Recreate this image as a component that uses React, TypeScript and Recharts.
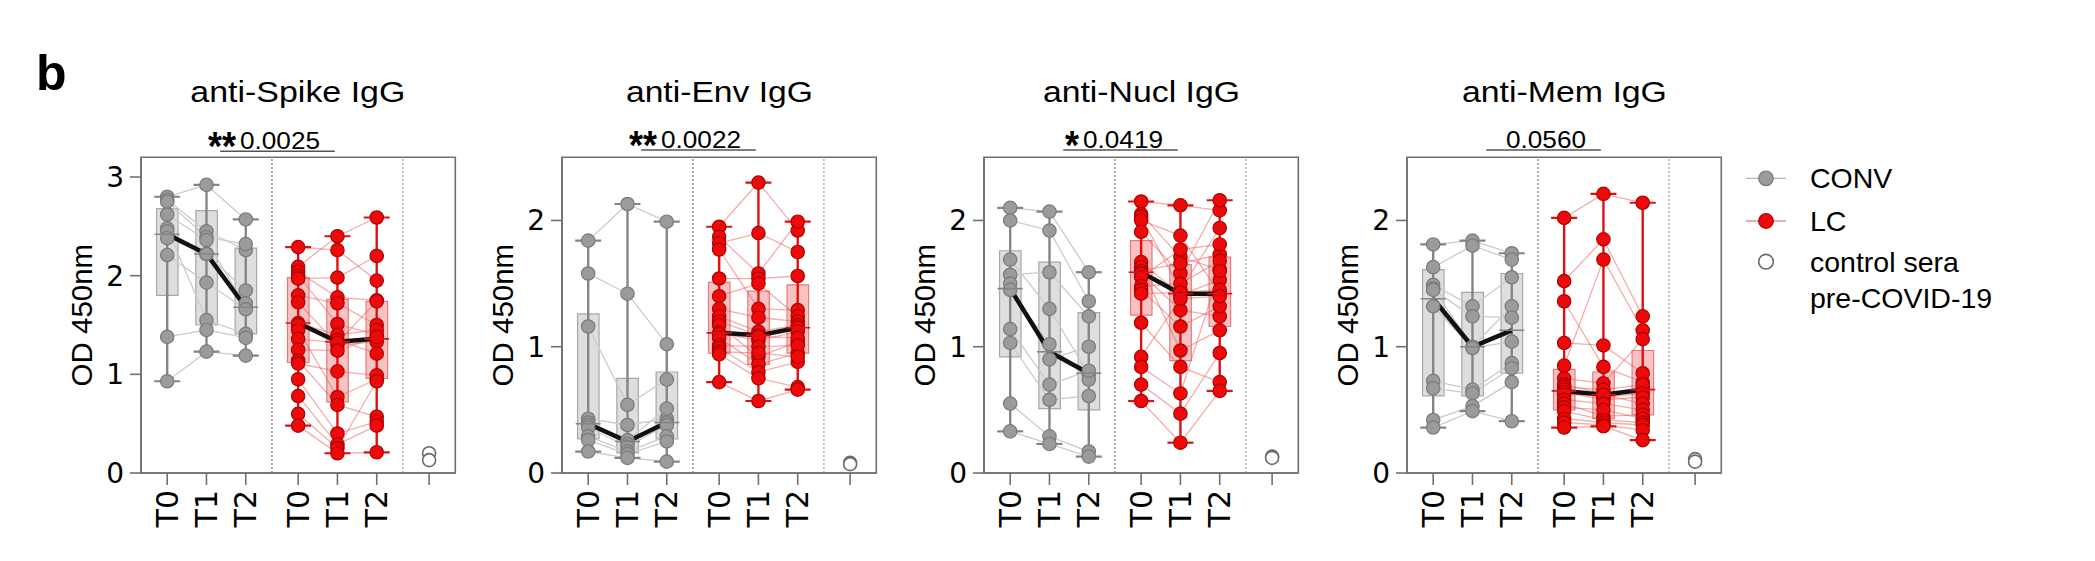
import React from 'react';
import {
  ComposedChart,
  XAxis,
  YAxis,
  Bar,
  Cell,
  Line,
  Scatter,
  ReferenceLine,
  ReferenceArea,
} from 'recharts';

// ---------- categories / labels ----------
const TITLES = ['anti-Spike IgG', 'anti-Env IgG', 'anti-Nucl IgG', 'anti-Mem IgG'];
const P_VALUES = ['0.0025', '0.0022', '0.0419', '0.0560'];
const STARS = ['**', '**', '*', ''];
const Y_MAX = [3.2, 2.5, 2.5, 2.5];
const Y_TICKS = [[0, 1, 2, 3], [0, 1, 2], [0, 1, 2], [0, 1, 2]];
const CONV_X = [2, 5, 8];
const LC_X = [12, 15, 18];
const CTRL_X = 22;
const X_TICKS = [2, 5, 8, 12, 15, 18, 22];
const X_TICK_LABELS = ['T0', 'T1', 'T2', 'T0', 'T1', 'T2', ''];
const LEGEND_LABELS = ['CONV', 'LC', 'control sera', 'pre-COVID-19'];

// ---------- anti-Spike ----------
const SPIKE_CONV_T0 = [2.8, 2.77, 2.75, 2.62, 2.48, 2.45, 2.38, 2.21, 1.38, 0.93];
const SPIKE_CONV_T1 = [2.92, 2.45, 2.39, 2.36, 1.55, 2.22, 2.22, 1.93, 1.45, 1.23];
const SPIKE_CONV_T2 = [2.57, 2.26, 2.32, 1.68, 1.41, 1.85, 1.72, 1.66, 1.37, 1.19];
const SPIKE_LC_T0 = [2.29, 2.09, 2.04, 2.0, 1.97, 1.8, 1.73, 1.52, 1.5, 1.45, 1.36, 1.25, 1.14, 1.11, 0.95, 0.78, 0.6, 0.48];
const SPIKE_LC_T1 = [2.26, 2.4, 1.78, 1.51, 1.98, 1.72, 1.3, 1.4, 1.35, 0.77, 1.32, 1.24, 0.69, 1.03, 0.4, 0.29, 0.25, 0.2];
const SPIKE_LC_T2 = [1.95, 2.59, 1.75, 1.4, 2.2, 1.5, 1.33, 1.45, 1.21, 0.95, 1.74, 1.38, 0.57, 0.99, 0.52, 0.48, 0.93, 0.21];
// [q1, median, q3, min, max] for CONV T0,T1,T2, LC T0,T1,T2
const SPIKE_BOXES = [
  [1.8, 2.42, 2.68, 0.93, 2.8],
  [1.5, 2.22, 2.66, 1.23, 2.92],
  [1.41, 1.68, 2.28, 1.19, 2.57],
  [1.12, 1.52, 1.98, 0.48, 2.29],
  [0.72, 1.33, 1.76, 0.2, 2.4],
  [0.96, 1.36, 1.74, 0.21, 2.59],
];
const SPIKE_CTRL = [0.2, 0.13];

// ---------- anti-Env ----------
const ENV_CONV_T0 = [1.84, 1.58, 1.16, 0.43, 0.4, 0.38, 0.36, 0.29, 0.26, 0.17];
const ENV_CONV_T1 = [2.13, 1.42, 0.54, 0.38, 0.26, 0.23, 0.21, 0.17, 0.15, 0.12];
const ENV_CONV_T2 = [1.99, 1.02, 0.74, 0.43, 0.51, 0.4, 0.38, 0.29, 0.25, 0.09];
const ENV_LC_T0 = [1.95, 1.87, 1.82, 1.77, 1.54, 1.4, 1.3, 1.24, 1.2, 1.17, 1.11, 1.1, 1.07, 1.01, 0.99, 0.96, 0.94, 0.72];
const ENV_LC_T1 = [2.3, 1.58, 1.9, 1.3, 1.54, 1.5, 1.23, 1.12, 1.09, 0.92, 1.05, 1.08, 0.86, 1.0, 0.8, 0.95, 0.75, 0.57];
const ENV_LC_T2 = [1.92, 1.99, 1.75, 1.29, 1.56, 1.24, 1.2, 1.17, 1.15, 1.04, 1.12, 1.07, 0.95, 1.01, 0.88, 0.92, 0.68, 0.66];
const ENV_BOXES = [
  [0.27, 0.39, 1.26, 0.17, 1.84],
  [0.16, 0.25, 0.75, 0.12, 2.13],
  [0.27, 0.4, 0.8, 0.09, 1.99],
  [0.95, 1.11, 1.51, 0.72, 1.95],
  [0.86, 1.09, 1.44, 0.57, 2.3],
  [0.95, 1.15, 1.49, 0.66, 1.99],
];
const ENV_CTRL = [0.08, 0.07];

// ---------- anti-Nucl ----------
const NUCL_CONV_T0 = [2.1, 2.0, 1.69, 1.57, 1.5, 1.45, 1.14, 1.03, 0.55, 0.33];
const NUCL_CONV_T1 = [2.07, 1.92, 1.3, 1.59, 0.9, 1.02, 0.7, 0.58, 0.29, 0.23];
const NUCL_CONV_T2 = [1.59, 1.36, 0.78, 1.24, 1.0, 0.74, 0.81, 0.61, 0.17, 0.13];
const NUCL_LC_T0 = [2.15, 2.05, 2.03, 2.0, 1.91, 1.67, 1.63, 1.6, 1.58, 1.55, 1.48, 1.45, 1.42, 1.19, 0.92, 0.84, 0.7, 0.57];
const NUCL_LC_T1 = [2.12, 1.71, 1.45, 1.88, 1.58, 1.41, 0.97, 1.66, 1.29, 1.77, 1.5, 1.16, 1.43, 0.84, 1.38, 0.63, 0.47, 0.24];
const NUCL_LC_T2 = [2.08, 1.61, 1.94, 1.42, 2.16, 1.53, 1.13, 1.73, 1.24, 1.81, 1.68, 1.32, 1.45, 0.72, 1.4, 1.6, 0.95, 0.65];
const NUCL_BOXES = [
  [0.92, 1.46, 1.76, 0.33, 2.1],
  [0.51, 0.96, 1.67, 0.23, 2.07],
  [0.5, 0.79, 1.27, 0.13, 1.59],
  [1.25, 1.59, 1.84, 0.57, 2.15],
  [0.89, 1.42, 1.65, 0.24, 2.12],
  [1.16, 1.42, 1.71, 0.65, 2.16],
];
const NUCL_CTRL = [0.13, 0.12];

// ---------- anti-Mem ----------
const MEM_CONV_T0 = [1.81, 1.63, 1.49, 1.46, 1.45, 1.32, 0.73, 0.67, 0.42, 0.36];
const MEM_CONV_T1 = [1.84, 1.8, 1.32, 1.0, 1.24, 0.99, 0.66, 0.63, 0.53, 0.49];
const MEM_CONV_T2 = [1.74, 1.69, 1.55, 1.32, 1.23, 1.04, 0.87, 0.83, 0.72, 0.41];
const MEM_LC_T0 = [2.02, 1.52, 1.36, 1.03, 0.85, 0.75, 0.7, 0.68, 0.66, 0.64, 0.62, 0.58, 0.55, 0.52, 0.49, 0.43, 0.4, 0.36];
const MEM_LC_T1 = [2.21, 1.85, 0.84, 1.01, 1.69, 0.71, 0.63, 0.66, 0.6, 0.58, 0.62, 0.55, 0.45, 0.5, 0.42, 0.4, 0.38, 0.37];
const MEM_LC_T2 = [2.14, 1.24, 0.72, 0.79, 1.13, 1.06, 0.67, 0.7, 0.63, 0.6, 0.55, 0.5, 0.46, 0.43, 0.4, 0.38, 0.34, 0.26];
const MEM_BOXES = [
  [0.61, 1.38, 1.61, 0.36, 1.81],
  [0.61, 1.0, 1.43, 0.49, 1.84],
  [0.79, 1.13, 1.58, 0.41, 1.74],
  [0.5, 0.65, 0.82, 0.36, 2.02],
  [0.43, 0.62, 0.8, 0.37, 2.21],
  [0.46, 0.66, 0.97, 0.26, 2.14],
];
const MEM_CTRL = [0.11, 0.09];

const PANELS = [
  { conv: [SPIKE_CONV_T0, SPIKE_CONV_T1, SPIKE_CONV_T2], lc: [SPIKE_LC_T0, SPIKE_LC_T1, SPIKE_LC_T2], boxes: SPIKE_BOXES, ctrl: SPIKE_CTRL },
  { conv: [ENV_CONV_T0, ENV_CONV_T1, ENV_CONV_T2], lc: [ENV_LC_T0, ENV_LC_T1, ENV_LC_T2], boxes: ENV_BOXES, ctrl: ENV_CTRL },
  { conv: [NUCL_CONV_T0, NUCL_CONV_T1, NUCL_CONV_T2], lc: [NUCL_LC_T0, NUCL_LC_T1, NUCL_LC_T2], boxes: NUCL_BOXES, ctrl: NUCL_CTRL },
  { conv: [MEM_CONV_T0, MEM_CONV_T1, MEM_CONV_T2], lc: [MEM_LC_T0, MEM_LC_T1, MEM_LC_T2], boxes: MEM_BOXES, ctrl: MEM_CTRL },
];

// ---------- layout / style ----------
const PLOT_LEFTS = [140.7, 562.3, 984.3, 1407.3];
const PLOT_W = 314.3;
const Y_AXIS_W = 100;
const CHART_H = 561;
const MARGIN = { top: 157.3, right: 5, bottom: 8, left: 0 };
const SIG_Y = [3.262, 2.557, 2.557, 2.557];
const TITLE_W = [215, 187, 197, 205];
const AXIS_COLOR = '#707070';
const SANS = '"Liberation Sans", Arial, Helvetica, sans-serif';
const WIDE = '"DejaVu Sans", "Liberation Sans", sans-serif';
const PT_R = 6.7;

const CONV_STYLE = { fill: '#9b9b9b', stroke: '#7a7a7a', whisker: '#858585', boxFill: 'rgba(200,200,200,0.6)', boxStroke: '#a8a8a8', pair: '#cbcbcb' };
const LC_STYLE = { fill: '#ec0a0a', stroke: '#b00000', whisker: '#e01010', boxFill: 'rgba(238,110,110,0.42)', boxStroke: '#e67a7a', pair: 'rgba(235,90,90,0.5)' };

const renderXTick = (props: any) => {
  const { x, y, payload } = props;
  const i = X_TICKS.indexOf(payload.value);
  const label = i >= 0 ? X_TICK_LABELS[i] : '';
  const yy = y + 3;
  return (
    <text
      x={x}
      y={yy}
      transform={`rotate(-90 ${x} ${yy})`}
      textAnchor="end"
      dominantBaseline="central"
      fontSize={30}
      fontFamily={WIDE}
      fill="#000"
    >
      {label}
    </text>
  );
};

const renderYLabel = (props: any) => {
  const vb = props.viewBox || {};
  const x = (vb.x ?? 0) + (vb.width ?? Y_AXIS_W) - 59;
  const y = (vb.y ?? MARGIN.top) + (vb.height ?? 315) / 2;
  return (
    <text
      x={x}
      y={y}
      transform={`rotate(-90 ${x} ${y})`}
      textAnchor="middle"
      dominantBaseline="central"
      fontSize={29.5}
      fontFamily={SANS}
      fill="#000"
    >
      OD 450nm
    </text>
  );
};

const makeSigLabel = (p: string, stars: string) => (props: any) => {
  const vb = props.viewBox || {};
  const cx = (vb.x ?? 0) + (vb.width ?? 0) / 2 + 2.5;
  const ly = vb.y ?? 0;
  const numW = 80;
  const left = cx - numW / 2;
  return (
    <g>
      <text x={cx} y={ly - 2} textAnchor="middle" fontSize={24.5} fontFamily={SANS} fill="#000" textLength={numW} lengthAdjust="spacingAndGlyphs">
        {p}
      </text>
      {stars ? (
        <text
          x={left - 4}
          y={ly + 9}
          textAnchor="end"
          fontSize={40}
          fontWeight="bold"
          fontFamily={SANS}
          fill="#000"
          textLength={stars.length * 14}
          lengthAdjust="spacingAndGlyphs"
        >
          {stars}
        </text>
      ) : null}
    </g>
  );
};

const circleShape = (fill: string, stroke: string, r: number, sw: number) => (p: any) => (
  <circle cx={p.cx} cy={p.cy} r={r} fill={fill} stroke={stroke} strokeWidth={sw} />
);

const medianTick = (color: string) => (p: any) => (
  <line x1={p.cx - 12.5} x2={p.cx + 12.5} y1={p.cy} y2={p.cy} stroke={color} strokeWidth={1.6} />
);

const capDot = (color: string) => (p: any) => (
  <line key={`cap-${p.index}`} x1={p.cx - 13} x2={p.cx + 13} y1={p.cy} y2={p.cy} stroke={color} strokeWidth={2.2} />
);

function Panel({ idx }: { idx: number }) {
  const cfg = PANELS[idx];
  const yMax = Y_MAX[idx];
  const boxX = [...CONV_X, ...LC_X];
  const boxData = cfg.boxes.map((b, i) => ({
    x: boxX[i],
    q1: b[0],
    med: b[1],
    q3: b[2],
    min: b[3],
    max: b[4],
    y: b[1],
  }));
  const convBoxes = boxData.slice(0, 3);
  const lcBoxes = boxData.slice(3);

  const subjectLines = (series: number[][], xs: number[]) =>
    series[0].map((_, j) => series.map((arr, t) => ({ x: xs[t], y: arr[j] })));
  const convLines = subjectLines(cfg.conv, CONV_X);
  const lcLines = subjectLines(cfg.lc, LC_X);
  const convPoints = cfg.conv.flatMap((arr, t) => arr.map((v) => ({ x: CONV_X[t], y: v })));
  const lcPoints = cfg.lc.flatMap((arr, t) => arr.map((v) => ({ x: LC_X[t], y: v })));
  const ctrlPoints = cfg.ctrl.map((v) => ({ x: CTRL_X, y: v }));
  const chartW = Y_AXIS_W + PLOT_W + MARGIN.right;

  return (
    <div style={{ position: 'absolute', left: PLOT_LEFTS[idx] - Y_AXIS_W, top: 0 }}>
      <ComposedChart width={chartW} height={CHART_H} data={boxData} margin={MARGIN}>
        <XAxis
          type="number"
          dataKey="x"
          domain={[0, 24]}
          ticks={X_TICKS}
          interval={0}
          allowDataOverflow
          height={80}
          tickSize={12}
          tick={renderXTick}
          axisLine={{ stroke: AXIS_COLOR, strokeWidth: 1.6 }}
          tickLine={{ stroke: AXIS_COLOR, strokeWidth: 1.6 }}
        />
        <YAxis
          type="number"
          dataKey="y"
          domain={[0, yMax]}
          ticks={Y_TICKS[idx]}
          interval={0}
          allowDataOverflow
          width={Y_AXIS_W}
          tickSize={11}
          tickMargin={6}
          tick={{ fontSize: 28, fill: '#000', fontFamily: WIDE }}
          axisLine={{ stroke: AXIS_COLOR, strokeWidth: 1.6 }}
          tickLine={{ stroke: AXIS_COLOR, strokeWidth: 1.6 }}
          label={renderYLabel}
        />
        <ReferenceArea x1={0} x2={24} y1={0} y2={yMax} fill="none" fillOpacity={0} stroke={AXIS_COLOR} strokeWidth={1.6} />
        <ReferenceLine x={10} stroke="#555" strokeWidth={1} strokeDasharray="2 2" />
        <ReferenceLine x={20} stroke="#8a8a8a" strokeWidth={1} strokeDasharray="2 2" />

        {boxData.map((b, i) => {
          const st = i < 3 ? CONV_STYLE : LC_STYLE;
          return (
            <Line
              key={`wh-${i}`}
              data={[{ x: b.x, y: b.min }, { x: b.x, y: b.max }]}
              dataKey="y"
              stroke={st.whisker}
              strokeWidth={2.4}
              dot={capDot(st.whisker)}
              activeDot={false}
              legendType="none"
              isAnimationActive={false}
            />
          );
        })}

        <Bar dataKey={(d: any) => [d.q1, d.q3]} barSize={21.5} isAnimationActive={false} legendType="none">
          {boxData.map((b, i) => {
            const st = i < 3 ? CONV_STYLE : LC_STYLE;
            return <Cell key={`box-${i}`} fill={st.boxFill} stroke={st.boxStroke} strokeWidth={1.2} />;
          })}
        </Bar>

        {convLines.map((d, j) => (
          <Line key={`cl-${j}`} data={d} dataKey="y" stroke={CONV_STYLE.pair} strokeWidth={1.3} dot={false} activeDot={false} legendType="none" isAnimationActive={false} />
        ))}
        {lcLines.map((d, j) => (
          <Line key={`ll-${j}`} data={d} dataKey="y" stroke={LC_STYLE.pair} strokeWidth={1.3} dot={false} activeDot={false} legendType="none" isAnimationActive={false} />
        ))}

        <Scatter data={convPoints} dataKey="y" shape={circleShape(CONV_STYLE.fill, CONV_STYLE.stroke, PT_R, 1.2)} isAnimationActive={false} legendType="none" />
        <Scatter data={lcPoints} dataKey="y" shape={circleShape(LC_STYLE.fill, LC_STYLE.stroke, PT_R, 1.2)} isAnimationActive={false} legendType="none" />

        <Scatter data={convBoxes} dataKey="y" shape={medianTick(CONV_STYLE.whisker)} isAnimationActive={false} legendType="none" />
        <Scatter data={lcBoxes} dataKey="y" shape={medianTick(LC_STYLE.whisker)} isAnimationActive={false} legendType="none" />

        <Line data={convBoxes} dataKey="med" stroke="#111" strokeWidth={4.5} dot={false} activeDot={false} legendType="none" isAnimationActive={false} />
        <Line data={lcBoxes} dataKey="med" stroke="#111" strokeWidth={4.5} dot={false} activeDot={false} legendType="none" isAnimationActive={false} />

        <Scatter data={ctrlPoints} dataKey="y" shape={circleShape('#ffffff', '#6a6a6a', 6.5, 1.6)} isAnimationActive={false} legendType="none" />

        <ReferenceLine
          segment={[{ x: 6.05, y: SIG_Y[idx] }, { x: 14.8, y: SIG_Y[idx] }]}
          stroke="#555"
          strokeWidth={1.5}
          ifOverflow="visible"
          label={makeSigLabel(P_VALUES[idx], STARS[idx])}
        />
      </ComposedChart>
    </div>
  );
}

function Overlay() {
  const legendX = 1766;
  const textX = 1810;
  return (
    <svg width={2095} height={561} style={{ position: 'absolute', left: 0, top: 0 }}>
      <text x={36} y={90} fontSize={50} fontWeight="bold" fontFamily={SANS} fill="#000">
        b
      </text>
      {TITLES.map((t, i) => (
        <text
          key={t}
          x={PLOT_LEFTS[i] + PLOT_W / 2}
          y={102}
          textAnchor="middle"
          fontSize={30}
          fontFamily={SANS}
          fill="#000"
          textLength={TITLE_W[i]}
          lengthAdjust="spacingAndGlyphs"
        >
          {t}
        </text>
      ))}
      {/* legend */}
      <line x1={legendX - 20} x2={legendX + 20} y1={178.3} y2={178.3} stroke="#b5b5b5" strokeWidth={1.3} />
      <circle cx={legendX} cy={178.3} r={7.3} fill={CONV_STYLE.fill} stroke={CONV_STYLE.stroke} strokeWidth={1.2} />
      <text x={textX} y={188.3} fontSize={28.5} fontFamily={SANS} fill="#000">{LEGEND_LABELS[0]}</text>
      <line x1={legendX - 20} x2={legendX + 20} y1={221} y2={221} stroke="#f09090" strokeWidth={1.3} />
      <circle cx={legendX} cy={221} r={7.3} fill={LC_STYLE.fill} stroke={LC_STYLE.stroke} strokeWidth={1.2} />
      <text x={textX} y={231} fontSize={28.5} fontFamily={SANS} fill="#000">{LEGEND_LABELS[1]}</text>
      <circle cx={legendX} cy={261.7} r={7.3} fill="#fff" stroke="#6a6a6a" strokeWidth={1.6} />
      <text x={textX} y={271.7} fontSize={28.5} fontFamily={SANS} fill="#000">{LEGEND_LABELS[2]}</text>
      <text x={textX} y={308.3} fontSize={28.5} fontFamily={SANS} fill="#000">{LEGEND_LABELS[3]}</text>
    </svg>
  );
}

export default function App() {
  return (
    <div style={{ position: 'relative', width: 2095, height: 561, background: '#fff', overflow: 'hidden' }}>
      <style>{'body{margin:0;}'}</style>
      <Overlay />
      {PANELS.map((_, i) => (
        <Panel key={i} idx={i} />
      ))}
    </div>
  );
}
